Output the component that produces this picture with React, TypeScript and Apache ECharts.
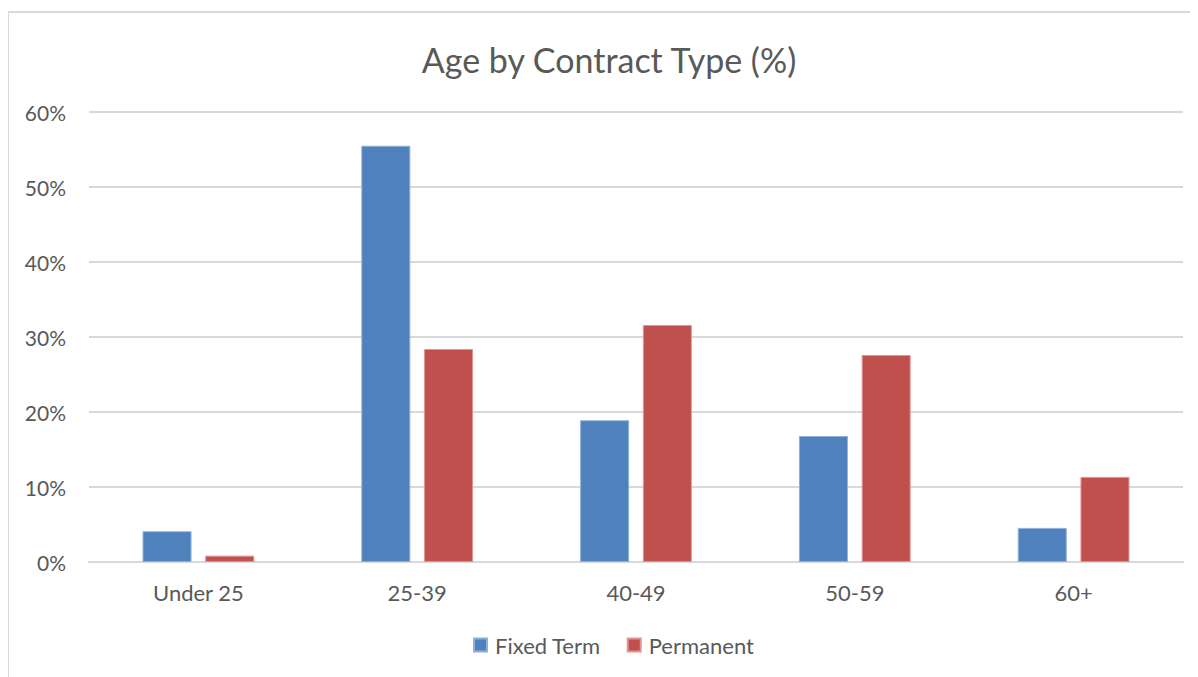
import React, { useEffect, useRef } from "react";
import * as echarts from "echarts";

const categories = ["Under 25", "25-39", "40-49", "50-59", "60+"];
const fixedTerm = [4.1, 55.5, 18.9, 16.8, 4.55];
const permanent = [0.85, 28.4, 31.6, 27.6, 11.35];
const seriesNames = ["Fixed Term", "Permanent"];

const FONT = "Lato";
const TEXT = "#595959";

export default function App() {
  const ref = useRef<HTMLDivElement>(null);
  useEffect(() => {
    document.body.style.overflow = "hidden";
    const chart = echarts.init(ref.current!, null, { renderer: "svg" });
    chart.setOption({
      animation: false,
      title: {
        text: "Age by Contract Type (%)",
        left: 596,
        top: 46,
        textAlign: "center",
        textVerticalAlign: "middle",
        textStyle: { fontFamily: FONT, fontSize: 34, fontWeight: "normal", color: TEXT },
      },
      grid: { left: 81, right: 15, top: 104, bottom: 115, containLabel: false },
      legend: {
        data: seriesNames,
        left: 460,
        top: 621,
        itemWidth: 13,
        itemHeight: 13,
        itemGap: 26,
        icon: "rect",
        textStyle: { fontFamily: FONT, fontSize: 22, color: TEXT, padding: [0, 0, 0, 3] },
      },
      xAxis: {
        type: "category",
        data: categories,
        axisLine: { lineStyle: { color: "#d9d9d9", width: 2 } },
        axisTick: { show: false },
        axisLabel: { fontFamily: FONT, fontSize: 22, color: TEXT, margin: 19 },
      },
      yAxis: {
        type: "value",
        min: 0,
        max: 60,
        interval: 10,
        axisLine: { show: false },
        axisTick: { show: false },
        splitLine: { lineStyle: { color: "#d9d9d9", width: 2 } },
        axisLabel: { fontFamily: FONT, fontSize: 21, color: TEXT, margin: 23, formatter: "{value}%" },
      },
      series: [
        {
          name: seriesNames[0],
          type: "bar",
          data: fixedTerm,
          barWidth: "22.4%",
          barGap: "28%",
          itemStyle: { color: "#4f81bd", borderColor: "#8eb0db", borderWidth: 1 },
        },
        {
          name: seriesNames[1],
          type: "bar",
          data: permanent,
          barWidth: "22.4%",
          barGap: "28%",
          itemStyle: { color: "#c0504d", borderColor: "#e09593", borderWidth: 1 },
        },
      ],
    });
    return () => chart.dispose();
  }, []);
  return (
    <div style={{ position: "relative", width: 1190, height: 669, overflow: "hidden" }}>
      <div
        style={{
          position: "absolute",
          left: -1,
          top: 3,
          width: 1300,
          height: 800,
          border: "2px solid #d9d9d9",
          boxSizing: "border-box",
        }}
      />
      <div ref={ref} style={{ position: "absolute", left: 0, top: 0, width: 1190, height: 669 }} />
    </div>
  );
}
